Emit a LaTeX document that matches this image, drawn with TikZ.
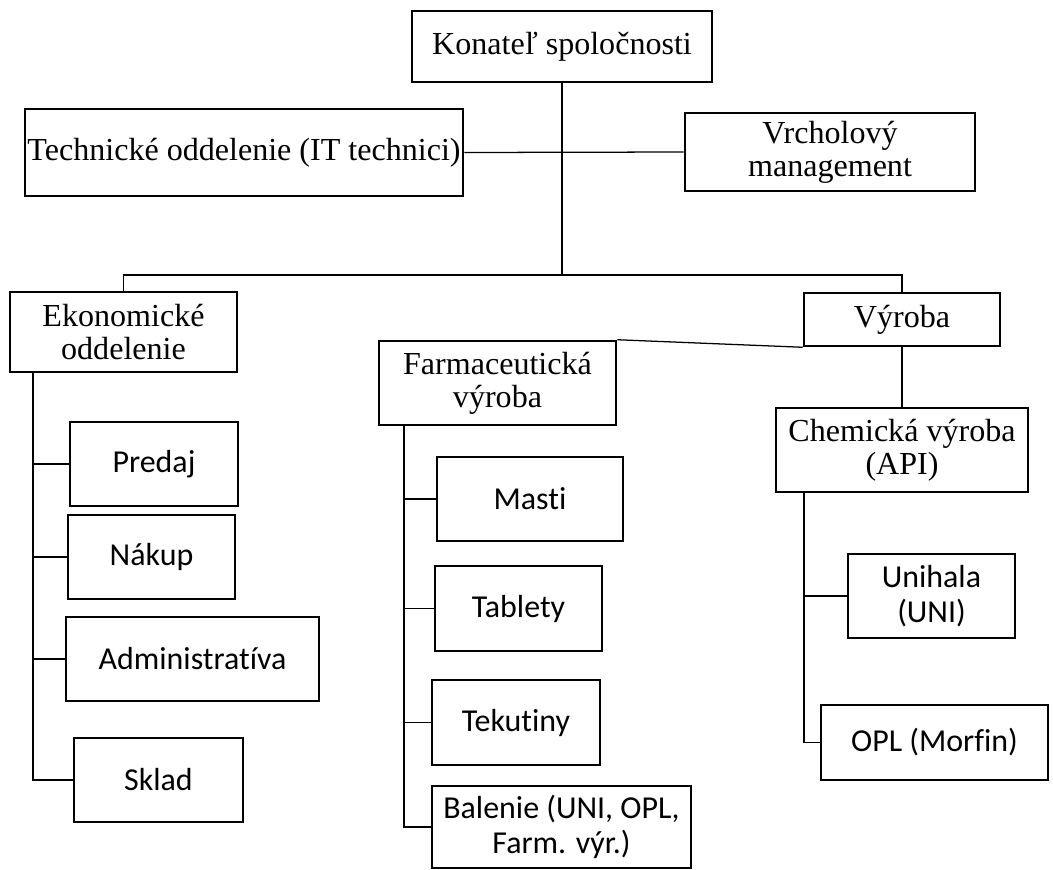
\documentclass[tikz,border=0pt]{standalone}
\usepackage{fontspec}
\setmainfont{Liberation Serif}
\newfontfamily\calibri[Ligatures=NoCommon]{Carlito}
\newcommand{\comma}{,}
\tikzset{
  box/.style={draw,line width=1.8pt,align=center,inner sep=0.5pt,
    font=\fontsize{22.8}{23.5}\selectfont},
  subbox/.style={draw,line width=1.8pt,align=center,inner sep=0.5pt,
    font=\calibri\fontsize{22.7}{25}\selectfont},
  dims/.style 2 args={minimum width=#1*0.025cm,minimum height=#2*0.025cm},
  link/.style={draw,line width=0.9pt},
}

\begin{document}
\begin{tikzpicture}[x=0.025cm,y=-0.025cm]
    \useasboundingbox (0,0) rectangle (1053,869);
    % top of the chart
    \node[box,dims={300}{71}] (kon) at (562,46.5) {Konateľ spoločnosti};
    \node[box,dims={438}{87}] (tech) at (244,152.5) {Technické oddelenie (IT technici)};
    \node[box,dims={290}{78}] (vrch) at (830,152) {Vrcholový\\management};
    \coordinate (hub) at (562,275);
    \draw[link] (kon.south) -- (hub);
    \draw[link] (tech.east) -- (vrch.west);
    % departments
    \node[box,dims={227}{80}] (ek) at (123.5,332) {Ekonomické\\oddelenie};
    \node[box,dims={196}{53}] (vyr) at (902,319.5) {Výroba};
    \node[box,dims={237}{84}] (farm) at (497.5,383) {Farmaceutická\\výroba};
    \node[box,dims={252}{84}] (chem) at (902,450) {Chemická výroba\\(API)};
    \draw[link] (ek.north) |- (hub) -| (vyr.north);
    \draw[link] (farm.north east) -- (vyr.south west);
    \draw[link] (vyr.south) -- (chem.north);
    % sub units
    \coordinate (ekbus) at (33,372);
    \coordinate (farmbus) at (404,425);
    \coordinate (chembus) at (804,492);
    \foreach \n/\t/\x/\y/\w/\h in {predaj/Predaj/154/464/168/84,nakup/Nákup/151.5/557/167/84,
      admin/Administratíva/192.5/659/253/84,sklad/Sklad/158.5/780/169/84}{
      \node[subbox,dims={\w}{\h}] (\n) at (\x,\y) {\t};
      \draw[link] (ekbus) |- (\n.west);
    }
    \foreach \n/\t/\x/\y/\w/\h in {masti/Masti/530/499/186/84,tabl/Tablety/518.5/608.5/167/85,
      tek/Tekutiny/516/722.5/168/85,bal/Balenie (UNI\comma{} OPL\comma\\Farm. výr.)/561.5/827/259/82}{
      \node[subbox,dims={\w}{\h}] (\n) at (\x,\y) {\t};
      \draw[link] (farmbus) |- (\n.west);
    }
    \foreach \n/\t/\x/\y/\w/\h in {uni/Unihala\\(UNI)/931.5/596/167/84,opl/OPL (Morfin)/934.5/742.5/227/75}{
      \node[subbox,dims={\w}{\h}] (\n) at (\x,\y) {\t};
      \draw[link] (chembus) |- (\n.west);
    }
\end{tikzpicture}
\end{document}
